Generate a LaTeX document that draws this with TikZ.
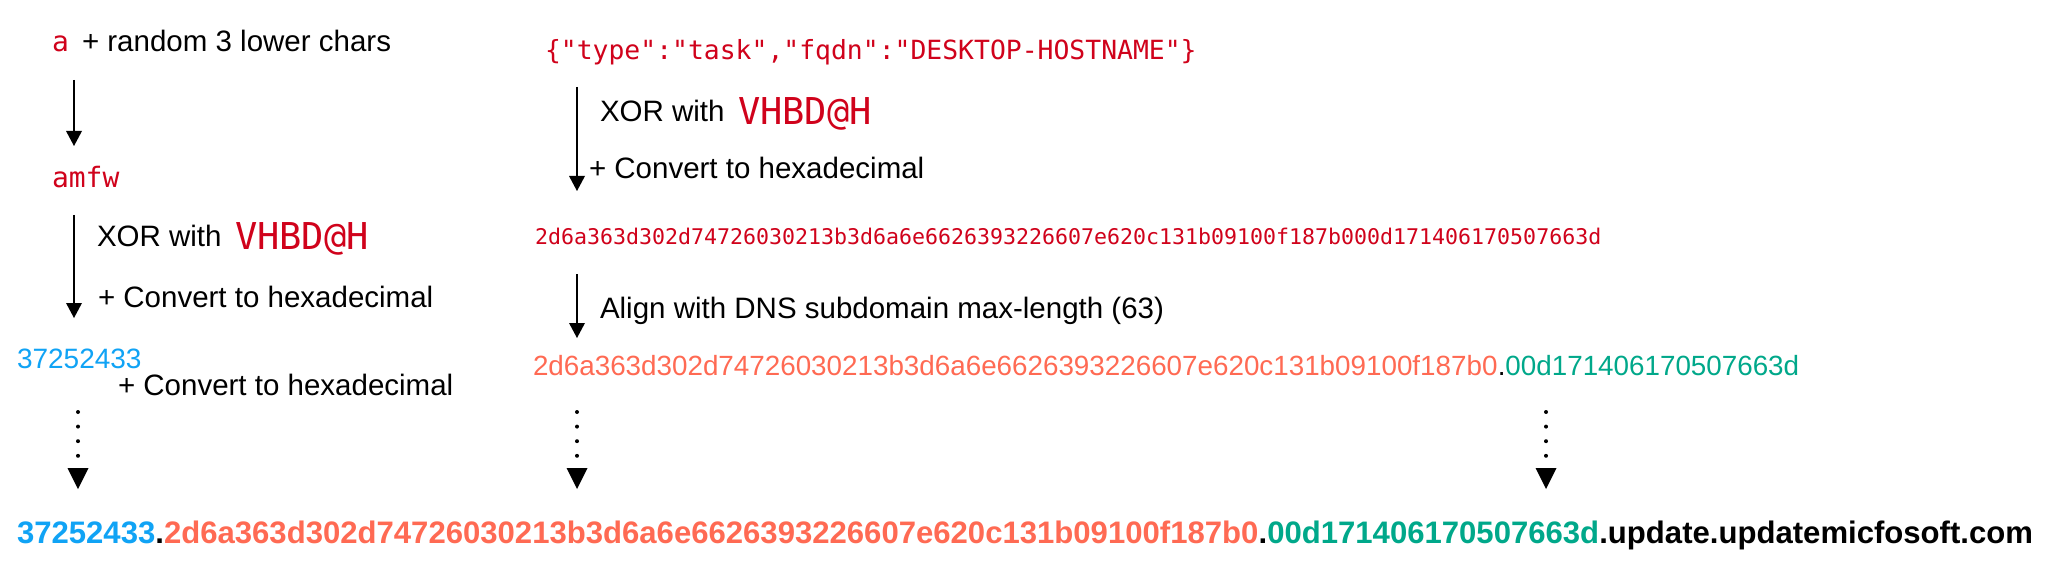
\documentclass[tikz,border=0pt]{standalone}
\usepackage{fontspec}
\setmainfont{Liberation Sans}
\newfontfamily\monof{DejaVu Sans Mono}
\usetikzlibrary{arrows.meta}
\definecolor{cred}{RGB}{208,2,27}
\definecolor{cblue}{RGB}{16,163,245}
\definecolor{csalmon}{RGB}{255,106,83}
\definecolor{cgreen}{RGB}{0,168,138}
\begin{document}
\begin{tikzpicture}[x=1pt,y=-1pt,
  txt/.style={anchor=base west, inner sep=0pt, outer sep=0pt, text=black, font=\fontsize{29.5}{35}\selectfont},
  monotxt/.style={anchor=base west, inner sep=0pt, outer sep=0pt, text=cred, font=\monof\fontsize{28}{34}\selectfont},
  keytxt/.style={anchor=base west, inner sep=0pt, outer sep=0pt, text=cred, font=\monof\fontsize{37}{44}\selectfont},
  arr/.style={line width=2pt, -{Triangle[width=16pt,length=15pt,line width=0pt]}},
  dotarr/.style={line width=4pt, line cap=round, dash pattern=on 0pt off 14.6pt, -{Triangle[width=21pt,length=21pt,line width=0pt]}}]
\useasboundingbox (0,0) rectangle (2048,572);
\fill[white] (0,0) rectangle (2048,572);
% left column
\node[monotxt] (a) at (52,52) {a};
\node[txt] (rnd) at (82,52) {+ random 3 lower chars};
\node[monotxt] (amfw) at (52,188) {amfw};
\node[txt] (xorl) at (97,247) {XOR with};
\node[keytxt] (keyl) at (235,250) {VHBD@H};
\node[txt] (convl) at (98,307) {+ Convert to hexadecimal};
\node[txt, text=cblue, font=\fontsize{28}{34}\selectfont] (blue) at (17,368) {37252433};
\node[txt] (convl2) at (118,395) {+ Convert to hexadecimal};
% right column
\node[monotxt, font=\monof\fontsize{26.4}{32}\selectfont] (json) at (545,60) {\{"type":"task","fqdn":"DESKTOP-HOSTNAME"\}};
\node[txt] (xorr) at (600,122) {XOR with};
\node[keytxt] (keyr) at (738,125) {VHBD@H};
\node[txt] (convr) at (589,179) {+ Convert to hexadecimal};
\node[monotxt, font=\monof\fontsize{21.6}{26}\selectfont] (hex) at (535,244) {2d6a363d302d74726030213b3d6a6e6626393226607e620c131b09100f187b000d171406170507663d};
\node[txt] (align) at (600,318) {Align with DNS subdomain max-length (63)};
\node[txt, font=\fontsize{27.8}{34}\selectfont] (split) at (533,375) {\textcolor{csalmon}{2d6a363d302d74726030213b3d6a6e6626393226607e620c131b09100f187b0}.\textcolor{cgreen}{00d171406170507663d}};
% final line
\node[txt, font=\bfseries\fontsize{31.1}{36}\selectfont] (final) at (17,543) {\textcolor{cblue}{37252433}.\textcolor{csalmon}{2d6a363d302d74726030213b3d6a6e6626393226607e620c131b09100f187b0}.\textcolor{cgreen}{00d171406170507663d}.update.updatemicfosoft.com};
% connector end points
\coordinate (a1s) at (74,80);   \coordinate (a1e) at (74,146);
\coordinate (a2s) at (74,215);  \coordinate (a2e) at (74,318);
\coordinate (r1s) at (577,87);  \coordinate (r1e) at (577,191);
\coordinate (r2s) at (577,274); \coordinate (r2e) at (577,338);
\coordinate (d1s) at (78,412);  \coordinate (d1e) at (78,489);
\coordinate (d2s) at (577,412); \coordinate (d2e) at (577,489);
\coordinate (d3s) at (1546,412); \coordinate (d3e) at (1546,489);
\draw[arr] (a1s) -- (a1e);
\draw[arr] (a2s) -- (a2e);
\draw[arr] (r1s) -- (r1e);
\draw[arr] (r2s) -- (r2e);
\draw[dotarr] (d1s) -- (d1e);
\draw[dotarr] (d2s) -- (d2e);
\draw[dotarr] (d3s) -- (d3e);
\end{tikzpicture}
\end{document}
